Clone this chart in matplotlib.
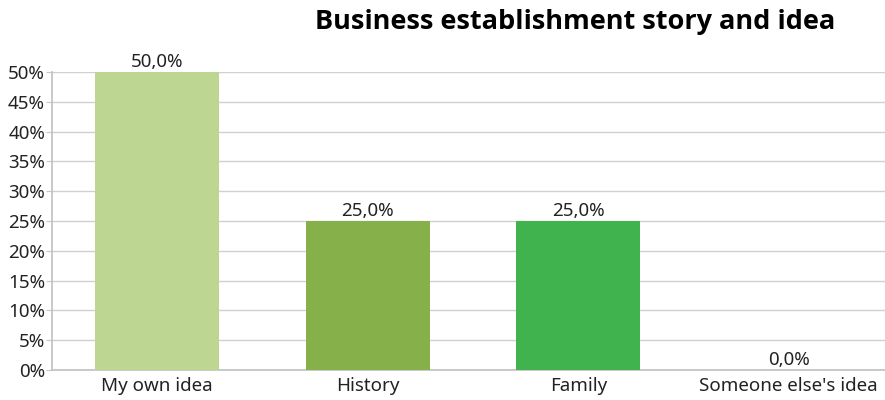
import matplotlib
matplotlib.use('Agg')
from matplotlib import pyplot as plt
import matplotlib.ticker as ticker

categories = ['My own idea', 'History', 'Family', "Someone else's idea"]
shares = [0.50, 0.25, 0.25, 0.0]
colors = ['#bdd792', '#86b04a', '#41b34e', '#3a8fd0']
y_ticks = [0, 0.05, 0.10, 0.15, 0.20, 0.25, 0.30, 0.35, 0.40, 0.45, 0.50]

plt.rcParams['font.family'] = ['Noto Sans', 'DejaVu Sans']
plt.rcParams['text.color'] = '#222222'

fig = plt.figure(figsize=(8.85, 4), dpi=100)
ax = fig.add_axes([52 / 885, 30 / 400, 842 / 885, 298 / 400])

x = range(len(categories))
bars = ax.bar(x, shares, width=0.59, color=colors, zorder=3)

# value labels above each bar, decimal comma
for xi, v in zip(x, shares):
    label = ('%.1f%%' % (v * 100)).replace('.', ',')
    ax.text(xi, v + 0.002, label, ha='center', va='bottom', fontsize=13.5, color='#222222')

ax.set_xlim(-0.5, 3.5)
ax.set_ylim(0, 0.5)
ax.set_xticks(list(x))
ax.set_xticklabels(categories)
ax.yaxis.set_major_locator(ticker.FixedLocator(y_ticks))
ax.yaxis.set_major_formatter(ticker.FuncFormatter(lambda v, p: '%d%%' % round(v * 100)))
ax.tick_params(axis='y', length=4, color='#c8c8c8', labelsize=13.5, labelcolor='#222222', pad=1)
ax.tick_params(axis='x', length=0, labelsize=13.5, labelcolor='#222222', pad=5)
ax.grid(axis='y', color='#d0d0d0', linewidth=1, zorder=0)
for s in ['top', 'right']:
    ax.spines[s].set_visible(False)
for s in ['left', 'bottom']:
    ax.spines[s].set_color('#c0c0c0')
    ax.spines[s].set_linewidth(1.2)

fig.text(575 / 885, 1 - 22 / 400, 'Business establishment story and idea',
         ha='center', va='center', fontsize=19.5, fontweight='bold', color='#000000',
         family=['Open Sans', 'DejaVu Sans'])

plt.savefig('out.png', dpi=100)
